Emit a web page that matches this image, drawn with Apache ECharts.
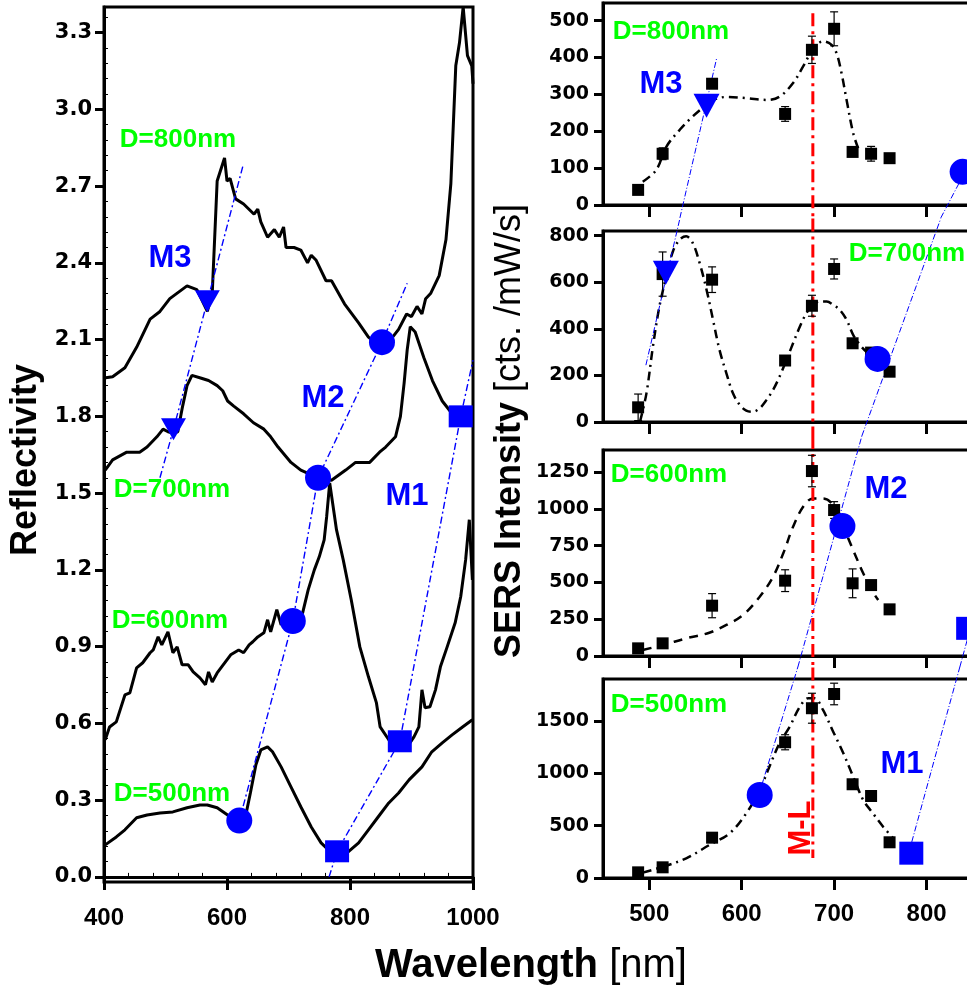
<!DOCTYPE html>
<html><head><meta charset="utf-8">
<script src="https://cdn.jsdelivr.net/npm/echarts@6/dist/echarts.min.js"></script>
<style>html,body{margin:0;padding:0;background:#fff}#c{width:967px;height:989px}</style>
</head><body><div id="c"></div>
<script>
// ---------- Left panel: reflectivity spectra (offset) ----------
const refl800 = [[400,1.95],[414,1.955],[434,1.99],[453,2.07],[475,2.18],[491,2.21],[507,2.26],[535,2.31],[551,2.295],[568,2.21],[576,2.28],[584,2.72],[596,2.81],[600,2.72],[605,2.73],[614,2.65],[627,2.63],[644,2.59],[650,2.61],[655,2.56],[666,2.50],[677,2.53],[685,2.50],[692,2.54],[696,2.46],[709,2.46],[720,2.45],[731,2.40],[737,2.43],[745,2.41],[761,2.33],[770,2.33],[791,2.24],[814,2.165],[830,2.11],[840,2.09],[863,2.09],[879,2.14],[892,2.20],[900,2.19],[909,2.23],[917,2.20],[923,2.26],[931,2.28],[945,2.35],[956,2.49],[964,2.71],[972,3.17],[978,3.26],[984,3.40],[991,3.21],[998,3.17],[1000,3.10]];
const refl700 = [[402,1.59],[414,1.63],[437,1.66],[458,1.66],[470,1.68],[486,1.72],[496,1.75],[504,1.74],[512,1.735],[520,1.74],[527,1.83],[535,1.92],[543,1.96],[557,1.95],[570,1.94],[584,1.92],[593,1.90],[601,1.86],[611,1.84],[627,1.81],[643,1.775],[660,1.75],[671,1.72],[683,1.68],[704,1.62],[720,1.59],[748,1.56],[770,1.55],[793,1.59],[809,1.62],[832,1.62],[848,1.66],[858,1.68],[874,1.72],[882,1.80],[888,1.93],[893,2.06],[898,2.15],[906,2.13],[920,2.03],[934,1.94],[950,1.86],[963,1.82],[971,1.79],[980,1.805],[994,1.81],[1000,1.82]];
const refl600 = [[402,0.536],[409,0.586],[420,0.606],[434,0.711],[442,0.719],[453,0.817],[463,0.837],[475,0.876],[480,0.887],[488,0.938],[494,0.907],[504,0.958],[512,0.876],[519,0.899],[527,0.829],[537,0.829],[545,0.801],[556,0.778],[565,0.751],[570,0.801],[576,0.762],[584,0.797],[606,0.868],[619,0.887],[627,0.876],[636,0.907],[642,0.919],[650,0.938],[660,0.954],[666,1.005],[671,0.958],[681,1.044],[688,0.985],[696,1.032],[704,0.993],[709,1.016],[723,1.032],[732,1.122],[742,1.200],[750,1.251],[758,1.317],[762,1.407],[767,1.540],[775,1.407],[778,1.357],[789,1.239],[802,1.083],[816,0.899],[830,0.782],[843,0.680],[849,0.586],[863,0.536],[873,0.504],[881,0.504],[887,0.536],[893,0.508],[904,0.547],[912,0.586],[917,0.731],[922,0.661],[930,0.665],[939,0.731],[947,0.821],[958,0.899],[971,0.993],[980,1.095],[988,1.239],[994,1.396],[999,1.161]];
const refl500 = [[402,0.125],[420,0.156],[434,0.184],[453,0.231],[470,0.242],[491,0.250],[512,0.254],[535,0.270],[556,0.281],[568,0.281],[584,0.270],[601,0.242],[611,0.223],[622,0.215],[630,0.235],[638,0.328],[647,0.438],[655,0.496],[666,0.508],[674,0.489],[688,0.430],[704,0.352],[720,0.274],[737,0.195],[753,0.133],[770,0.094],[781,0.086],[797,0.098],[814,0.133],[830,0.184],[846,0.235],[863,0.289],[879,0.328],[896,0.379],[917,0.430],[933,0.489],[950,0.524],[966,0.555],[983,0.586],[999,0.614]];

// mode markers on the left panel
const leftM3 = [[568,2.25],[513,1.75]];
const leftM2 = [[852,2.09],[748,1.56],[707,1.00],[620,0.22]];
const leftM1 = [[980,1.80],[881,0.53],[779,0.10]];
// guide lines on the left panel
const guideM3L = [[491,1.56],[513,1.75],[568,2.25],[626,2.78]];
const guideM2L = [[620,0.22],[707,1.00],[748,1.56],[852,2.09],[893,2.32]];
const guideM1L = [[766,0.0],[779,0.10],[881,0.53],[980,1.80],[1000,2.02]];

// axis ticks
const leftYTicks = [0,0.3,0.6,0.9,1.2,1.5,1.8,2.1,2.4,2.7,3.0,3.3];
const rightXTicks = [500,600,700,800];
const rightYTicks = [
  [0,100,200,300,400,500],
  [0,200,400,600,800],
  [0,250,500,750,1000,1250],
  [0,500,1000,1500]
];

// ---------- Right panels: SERS intensity ----------
const laserNm = [488,514.5,568,647,676,700,720,740,760];
const sers800 = [41,139,329,247,421,478,144,139,127];
const err800  = [5,16,10,20,37,46,8,20,12];
const sers700 = [63,635,611,264,499,657,338,298,216];
const err700  = [57,95,55,12,45,43,10,10,10];
const sers600 = [52,86,342,512,1257,992,494,482,317];
const err600  = [15,15,82,74,107,57,98,15,20];
const sers500 = [54,102,385,1296,1621,1757,895,783,341];
const err500  = [15,15,20,72,143,103,25,20,15];

const fit800 = [[493,63],[507.6,95],[518.5,158],[533,204],[547,240],[562,272],[569,285],[583.5,293],[605,290],[627,285],[641,294],[655.6,331],[666.5,376],[677,421],[688,444],[697,435],[702.6,412],[708,358],[713.5,285],[720.6,195],[726,154]];
const fit700 = [[490,1],[497,123],[504,324],[511,496],[518.5,625],[525.6,732],[533,783],[540,797],[547,769],[554.5,683],[562,568],[569,439],[576,310],[583.5,209],[590.6,123],[598,73],[605,49],[612,44],[619.5,59],[627,95],[634,138],[641,195],[648.5,267],[655.6,338],[663,410],[670,467],[677,503],[684.5,517],[692,517],[699,503],[706,482],[713.5,439],[720.6,374],[728,331],[735,302],[746,274],[757,245],[764,224]];
const fit600 = [[493,41],[515,75],[540,120],[565,158],[583.5,211],[601.5,279],[619.5,403],[634,539],[645,698],[655.6,878],[666.5,1014],[677,1071],[688,1071],[699,1026],[710,878],[720.6,720],[731.5,562],[740.6,448],[747.7,380]];
const fit500 = [[493,51],[515,108],[540,188],[565,315],[587,427],[605,618],[619.5,840],[630,1063],[641,1287],[652,1445],[663,1636],[672,1716],[679,1716],[688,1605],[699,1397],[710,1191],[720.6,968],[731.5,745],[742,618],[753,490],[764,379]];

// mode markers on the right panels (panel order: 800, 700, 600, 500)
const rightM3 = [[[562,269]],[[518,641]],[],[]];
const rightM2 = [[[839,90]],[[747,271]],[[709,883]],[[619.5,793]]];
const rightM1 = [[],[],[[845,188]],[[783.5,237]]];
// guide segments on the right panels
const guideM3R = [[[533.2,-35],[573.2,401]],[[496.4,244],[533.2,874]],[],[]];
const guideM2R = [[[815.4,-35],[841.4,89]],[[730,-60],[815.4,874]],[[660.8,-75],[730,1495]],[[621.8,888],[660.8,2015]]];
const guideM1R = [[],[],[[836,-75],[852.2,299]],[[784,344],[836,2015]]];
// M-L resonance line position and per-panel vertical extents
const mlNm = 677;
const mlSpan = [[520,-35],[874,-60],[1495,-78],[2010,191]];

const yMaxR = [548,820,1400,1900];

// ---------- build ----------
const BLUE = '#0000ff', GREEN = '#00ff00', RED = '#ff0000', BLK = '#000';
const chart = echarts.init(document.getElementById('c'));

const grids = [
  {left:104, top:7, width:369, height:875},
  {left:603, top:3, width:416, height:202},
  {left:603, top:231, width:416, height:191},
  {left:603, top:450, width:416, height:206},
  {left:603, top:679, width:416, height:199}
].map(g => Object.assign(g, {show:true, borderColor:BLK, borderWidth:3, backgroundColor:'transparent',
  containLabel:false, outerBoundsMode:'none'}));

const minorX = []; for (let v = 440; v < 1000; v += 40) if (v % 200) minorX.push(v);
const minorY = []; for (let k = 1; k < 57; k++) if (k % 5) minorY.push(+(k*0.06).toFixed(2));

const plain = v => String(v);
const axLine = {show:true, lineStyle:{color:BLK, width:3}};
const xAxes = [
  {gridIndex:0, type:'value', min:400, max:1000, interval:200, position:'bottom',
   axisLine:axLine, axisTick:{show:true, length:13, lineStyle:{color:BLK, width:3}},
   axisLabel:{formatter:plain, fontFamily:'Liberation Sans', fontWeight:'bold', fontSize:24, color:BLK, margin:24}, splitLine:{show:false}},
  {gridIndex:0, type:'value', min:400, max:1000, position:'bottom',
   axisLine:{show:false}, axisTick:{show:true, inside:true, length:4, customValues:minorX, lineStyle:{color:BLK, width:1}},
   axisLabel:{show:false}, splitLine:{show:false}}
];
const yAxes = [
  {gridIndex:0, type:'value', min:-0.02, max:3.4, position:'left',
   axisLine:axLine, axisTick:{show:true, length:9, customValues:leftYTicks, lineStyle:{color:BLK, width:3}},
   axisLabel:{customValues:leftYTicks, formatter:v=>v.toFixed(1), fontFamily:'DejaVu Sans', fontWeight:'bold', fontSize:21, color:BLK, margin:12},
   splitLine:{show:false}},
  {gridIndex:0, type:'value', min:-0.02, max:3.4, position:'left',
   axisLine:{show:false}, axisTick:{show:true, inside:true, length:4, customValues:minorY, lineStyle:{color:BLK, width:1}},
   axisLabel:{show:false}, splitLine:{show:false}}
];
for (let p = 0; p < 4; p++) {
  xAxes.push({gridIndex:p+1, type:'value', min:450, max:900, position:'bottom',
    axisLine:axLine, axisTick:{show:true, length:12, customValues:rightXTicks, lineStyle:{color:BLK, width:3}},
    axisLabel:{show:p===3, customValues:rightXTicks, formatter:plain, fontFamily:'Liberation Sans', fontWeight:'bold', fontSize:24, color:BLK, margin:24},
    splitLine:{show:false}});
  yAxes.push({gridIndex:p+1, type:'value', min:0, max:yMaxR[p], position:'left',
    axisLine:axLine, axisTick:{show:true, length:9, customValues:rightYTicks[p], lineStyle:{color:BLK, width:3}},
    axisLabel:{customValues:rightYTicks[p], formatter:plain, fontFamily:'DejaVu Sans', fontWeight:'bold', fontSize:19, color:BLK, margin:14},
    splitLine:{show:false}});
}

const series = [];
function line(ai, data, style, z, extra) {
  series.push(Object.assign({type:'line', xAxisIndex:ai, yAxisIndex:ai, data:data, symbol:'none',
    lineStyle:style, z:z, clip:false, silent:true}, extra||{}));
}
function marks(ai, data, symbol, size, rotate, color, z) {
  if (!data.length) return;
  series.push({type:'scatter', xAxisIndex:ai, yAxisIndex:ai, data:data, symbol:symbol, symbolSize:size,
    symbolRotate:rotate||0, itemStyle:{color:color, opacity:1}, z:z, clip:false, silent:true});
}

// left panel
[refl800, refl700, refl600, refl500].forEach(d => line(0, d, {color:BLK, width:3}, 3));
const guideStyleL = {color:BLUE, width:1.4, type:[7,3,2,3]};
line(0, guideM3L, guideStyleL, 4);
line(0, guideM2L, guideStyleL, 4);
line(0, guideM1L, guideStyleL, 4);
marks(0, leftM3, 'triangle', [25,22], 180, BLUE, 6);
marks(0, leftM2, 'circle', 26, 0, BLUE, 6);
marks(0, leftM1, 'rect', [24,22], 0, BLUE, 6);

// right panels (grid p+1 uses xAxis / yAxis index p+2)
const sersVals = [sers800, sers700, sers600, sers500];
const sersErrs = [err800, err700, err600, err500];
const fits = [fit800, fit700, fit600, fit500];
const fitTypes = [[9,5,2,5],[9,5,2,5],[9,7],[9,5,2,5]];
const guideStyleR = {color:BLUE, width:1, type:[6,2,1,2]};
for (let p = 0; p < 4; p++) {
  const ai = p + 2;
  line(ai, fits[p], {color:BLK, width:2.5, type:fitTypes[p]}, 3, {smooth:0.35});
  if (guideM3R[p].length) line(ai, guideM3R[p], guideStyleR, 4);
  if (guideM2R[p].length) line(ai, guideM2R[p], guideStyleR, 4);
  if (guideM1R[p].length) line(ai, guideM1R[p], guideStyleR, 4);
  line(ai, [[mlNm, mlSpan[p][0]],[mlNm, mlSpan[p][1]]], {color:RED, width:3, type:[13,5,3,5]}, 5);
  const vals = sersVals[p], errs = sersErrs[p];
  series.push({type:'custom', xAxisIndex:ai, yAxisIndex:ai, silent:true, z:6,
    data: laserNm.map((x,i)=>[x, vals[i]-errs[i], vals[i]+errs[i]]),
    renderItem:(params, api)=>{
      const x = api.value(0);
      const lo = api.coord([x, api.value(1)]), hi = api.coord([x, api.value(2)]);
      const w = 4, st = {stroke:BLK, lineWidth:1.2};
      return {type:'group', children:[
        {type:'line', shape:{x1:lo[0],y1:lo[1],x2:hi[0],y2:hi[1]}, style:st},
        {type:'line', shape:{x1:lo[0]-w,y1:lo[1],x2:lo[0]+w,y2:lo[1]}, style:st},
        {type:'line', shape:{x1:hi[0]-w,y1:hi[1],x2:hi[0]+w,y2:hi[1]}, style:st}
      ]};
    }});
  marks(ai, laserNm.map((x,i)=>[x, vals[i]]), 'rect', 12, 0, BLK, 7);
  marks(ai, rightM3[p], 'triangle', [26,24], 180, BLUE, 8);
  marks(ai, rightM2[p], 'circle', 26, 0, BLUE, 8);
  marks(ai, rightM1[p], 'rect', [24,23], 0, BLUE, 8);
}

// annotations
function txt(x, y, text, size, color, opts) {
  return Object.assign({type:'text', x:x, y:y, z:100, silent:true, style:{text:text, fill:color,
    font:'bold ' + size + 'px "Liberation Sans", Arial, sans-serif',
    textAlign:'center', textVerticalAlign:'middle', align:'center', verticalAlign:'middle'}}, opts||{});
}
const graphic = [
  txt(178,140,'D=800nm',26,GREEN), txt(172,490,'D=700nm',26,GREEN),
  txt(170,621,'D=600nm',26,GREEN), txt(172,794,'D=500nm',26,GREEN),
  txt(170,258,'M3',31,BLUE), txt(323,398,'M2',31,BLUE), txt(407,496,'M1',31,BLUE),
  txt(671,32,'D=800nm',26,GREEN), txt(907,254,'D=700nm',26,GREEN),
  txt(669,475,'D=600nm',26,GREEN), txt(669,705,'D=500nm',26,GREEN),
  txt(661,84,'M3',31,BLUE), txt(886,489,'M2',31,BLUE), txt(902,764,'M1',31,BLUE),
  txt(801,828,'M-L',31,RED,{rotation:Math.PI/2}),
  {type:'text', x:26, y:460, rotation:Math.PI/2, z:100, style:{text:'Reflectivity', fill:BLK,
    font:'bold 36px "Liberation Sans", Arial, sans-serif', textAlign:'center', textVerticalAlign:'middle', align:'center', verticalAlign:'middle'}},
  {type:'text', x:510, y:431, rotation:Math.PI/2, z:100, style:{text:'{b|SERS Intensity }{n|[cts. /mW/s]}', fill:BLK,
    rich:{b:{fontFamily:'Liberation Sans', fontWeight:'bold', fontSize:36, fill:BLK}, n:{fontFamily:'Liberation Sans', fontSize:36, fill:BLK}},
    textAlign:'center', textVerticalAlign:'middle', align:'center', verticalAlign:'middle'}},
  {type:'text', x:531, y:966, z:100, style:{text:'{b|Wavelength }{n|[nm]}', fill:BLK,
    rich:{b:{fontFamily:'Liberation Sans', fontWeight:'bold', fontSize:40, fill:BLK}, n:{fontFamily:'Liberation Sans', fontSize:40, fill:BLK}},
    textAlign:'center', textVerticalAlign:'middle', align:'center', verticalAlign:'middle'}}
];

chart.setOption({animation:false, backgroundColor:'#fff', grid:grids, xAxis:xAxes, yAxis:yAxes, series:series, graphic:graphic});
</script></body></html>
